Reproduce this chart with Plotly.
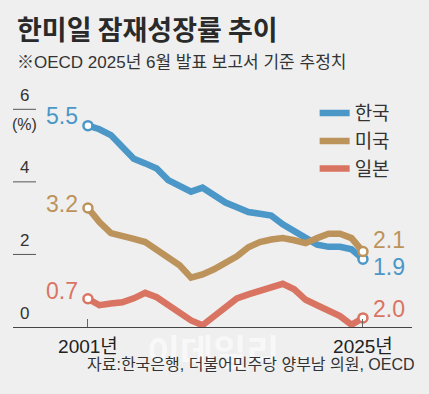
import plotly.graph_objects as go

years = list(range(2001, 2026))
korea = [5.55, 5.45, 5.29, 4.97, 4.64, 4.51, 4.37, 4.05, 3.87, 3.73, 3.84, 3.65, 3.43,
         3.30, 3.17, 3.12, 3.07, 2.83, 2.63, 2.42, 2.27, 2.21, 2.21, 2.14, 1.87]
usa = [3.28, 2.89, 2.59, 2.49, 2.43, 2.34, 2.14, 1.95, 1.70, 1.36, 1.45, 1.59, 1.76,
       1.95, 2.20, 2.34, 2.41, 2.45, 2.39, 2.31, 2.45, 2.57, 2.57, 2.45, 2.08]
japan = [0.78, 0.60, 0.65, 0.68, 0.79, 0.94, 0.82, 0.60, 0.38, 0.18, 0.05, 0.30, 0.52,
         0.79, 0.90, 1.00, 1.10, 1.19, 1.04, 0.75, 0.60, 0.43, 0.30, 0.06, 0.25]

series_names = ["한국", "미국", "일본"]
series_colors = ["#4a97c8", "#bd935c", "#da7462"]
start_labels = ["5.5", "3.2", "0.7"]
end_labels = ["1.9", "2.1", "2.0"]
ytick_vals = [0, 2, 4, 6]
ytick_text = ["0", "2", "4", "6"]
xtick_vals = [2001, 2025]
xtick_text = ["2001년", "2025년"]

title = "한미일 잠재성장률 추이"
subtitle = "※OECD 2025년 6월 발표 보고서 기준 추정치"
source = "자료:한국은행, 더불어민주당 양부남 의원, OECD"
watermark = "이데일리"

LAT = "Liberation Sans, Arial, Noto Sans CJK KR, sans-serif"
KR = "Noto Sans CJK KR, sans-serif"

fig = go.Figure()
data = [korea, usa, japan]
legend_ids = ["legend", "legend2", "legend3"]
for name, vals, col, lg in zip(series_names, data, series_colors, legend_ids):
    fig.add_trace(go.Scatter(
        x=years, y=vals, mode="lines", name=name, legend=lg,
        line=dict(color=col, width=6.5, shape="linear"),
        hoverinfo="skip",
    ))
# endpoint markers
for name, vals, col in zip(series_names, data, series_colors):
    fig.add_trace(go.Scatter(
        x=[years[0], years[-1]], y=[vals[0], vals[-1]], mode="markers",
        marker=dict(size=9, color="white", line=dict(color=col, width=2.5)),
        showlegend=False, hoverinfo="skip", cliponaxis=False,
    ))

annotations = []
annotations.append(dict(x=0.501, xref="paper", y=-0.096, yref="paper", text="<b>" + watermark + "</b>",
                        showarrow=False, xanchor="center", yanchor="middle",
                        font=dict(family=KR, size=36, color="#f8f8f8")))
start_shift = [10, 4, 8]
end_shift = [-8, 12, 9]
for i, vals in enumerate(data):
    annotations.append(dict(x=years[0], y=vals[0], text=start_labels[i], showarrow=False,
                            xanchor="right", yanchor="middle", xshift=-8, yshift=start_shift[i],
                            font=dict(family=LAT, size=23, color=series_colors[i])))
    annotations.append(dict(x=years[-1], y=vals[-1], text=end_labels[i], showarrow=False,
                            xanchor="left", yanchor="middle", xshift=8, yshift=end_shift[i],
                            font=dict(family=LAT, size=23, color=series_colors[i])))

for v, t in zip(ytick_vals, ytick_text):
    annotations.append(dict(x=0.03, xref="paper", y=v, yref="y", text=t, showarrow=False,
                            xanchor="center", yanchor="middle", yshift=14,
                            font=dict(family=LAT, size=17, color="#333")))
annotations.append(dict(x=0.029, xref="paper", y=ytick_vals[-1], yref="y", text="(%)", showarrow=False,
                        xanchor="center", yanchor="middle", yshift=-15,
                        font=dict(family=LAT, size=16, color="#333")))

annotations.append(dict(x=0.005, xref="paper", y=1.232, yref="paper", text="<b>" + title + "</b>",
                        showarrow=False, xanchor="left", yanchor="middle",
                        font=dict(family=KR, size=27, color="#2a2a2a")))
annotations.append(dict(x=0.005, xref="paper", y=1.093, yref="paper", text=subtitle,
                        showarrow=False, xanchor="left", yanchor="middle",
                        font=dict(family=LAT, size=17, color="#333")))
annotations.append(dict(x=1.0125, xref="paper", y=-0.156, yref="paper", text=source,
                        showarrow=False, xanchor="right", yanchor="middle",
                        font=dict(family=LAT, size=16, color="#333")))

shapes = []
for v in ytick_vals[1:]:
    shapes.append(dict(type="line", xref="paper", x0=0, x1=0.0576, yref="y", y0=v, y1=v,
                       line=dict(color="#555", width=1)))

leg_common = dict(x=0.756, xanchor="left", yanchor="middle", bgcolor="rgba(0,0,0,0)",
                  font=dict(family=KR, size=19, color="#333"))

fig.update_layout(
    width=429, height=394,
    margin=dict(l=13, r=17, t=85, b=67.3),
    paper_bgcolor="#efefef", plot_bgcolor="#efefef",
    showlegend=True,
    legend=dict(y=0.884, **leg_common),
    legend2=dict(y=0.768, **leg_common),
    legend3=dict(y=0.654, **leg_common),
    xaxis=dict(range=[1994.46, 2029.28], showgrid=False, zeroline=False,
               showline=True, linecolor="#444", linewidth=1, automargin=False,
               ticks="inside", ticklen=8, tickcolor="#666", tickwidth=1,
               tickvals=xtick_vals, ticktext=xtick_text, ticklabelstandoff=2,
               tickfont=dict(family=LAT, size=19, color="#222")),
    yaxis=dict(range=[0, 6.67], showgrid=False, zeroline=False, showticklabels=False,
               showline=False, automargin=False),
    annotations=annotations,
    shapes=shapes,
)

fig.write_html("out.html", config={"displayModeBar": False},
               post_script="document.body.style.margin='0';")
